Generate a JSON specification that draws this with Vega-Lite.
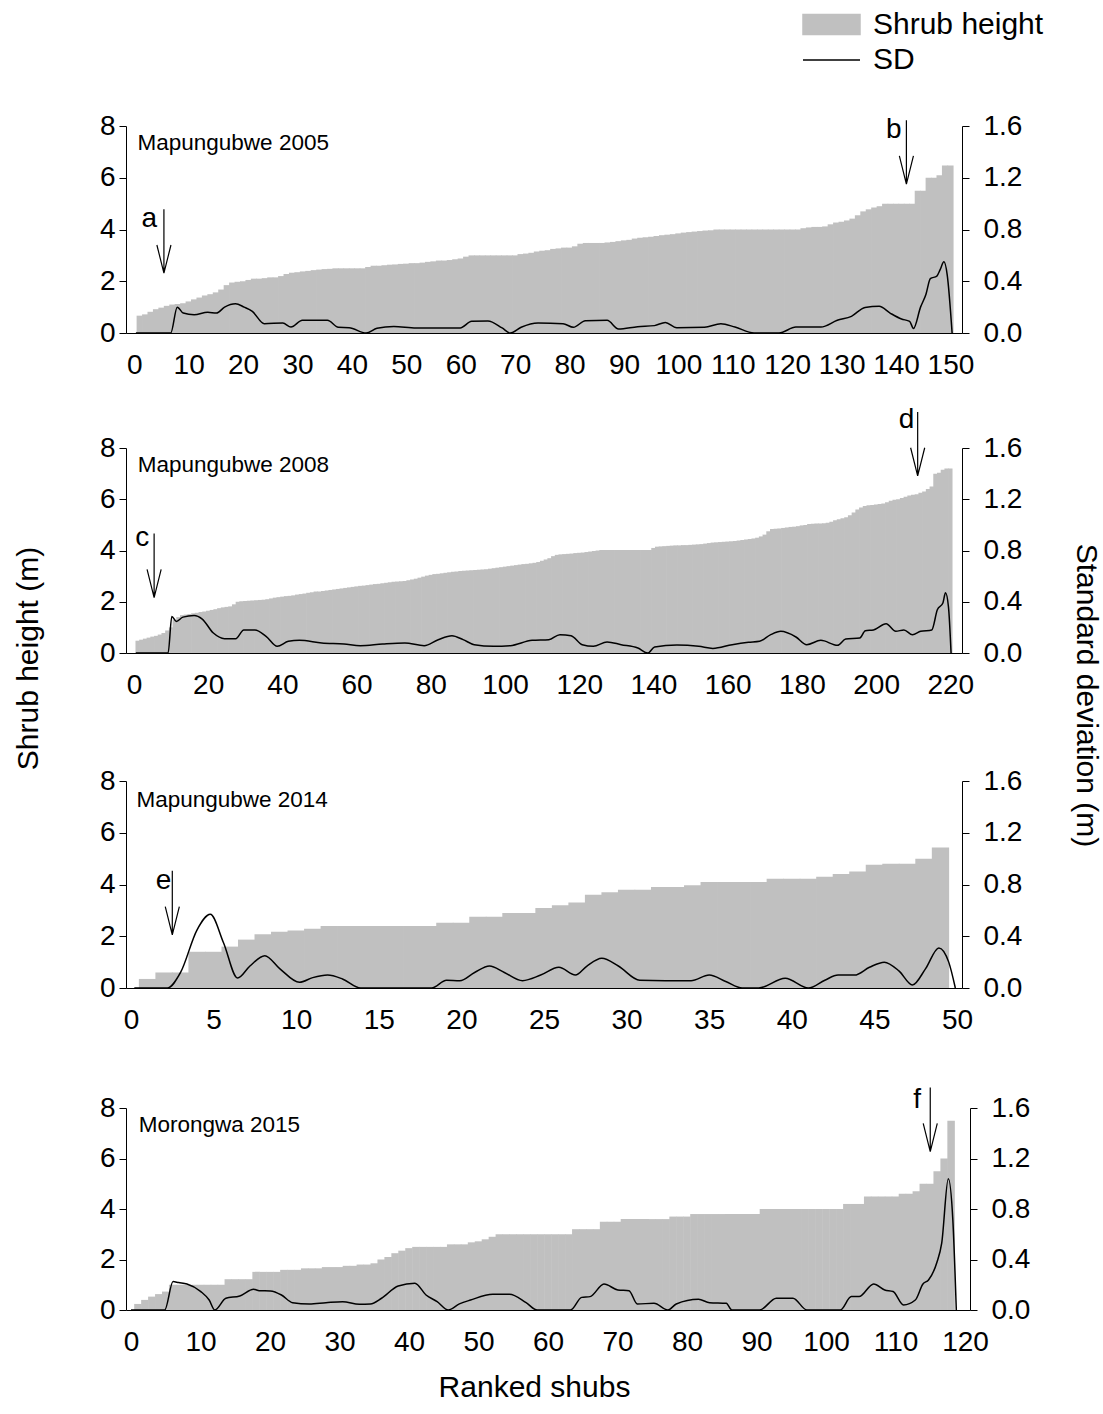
{
"$schema": "https://vega.github.io/schema/vega-lite/v6.json",
"background": "white",
"padding": {"left": 13, "top": 9, "right": 5, "bottom": 5},
"config": {
  "font": "Liberation Sans",
  "view": {"stroke": null},
  "axis": {"grid": false, "labelFont": "Liberation Sans", "titleFont": "Liberation Sans", "labelFontSize": 28, "labelColor": "#000000", "titleFontSize": 30, "titleFontWeight": "normal", "titleColor": "#000000", "domainColor": "#000000", "tickColor": "#000000", "domainWidth": 1, "tickWidth": 1, "labelOverlap": false},
  "axisX": {"ticks": false, "tickSize": 0, "labelPadding": 18, "labelFlush": false},
  "axisY": {"tickSize": 7},
  "axisLeft": {"labelPadding": 4},
  "axisRight": {"labelPadding": 14}
},
"datasets": {
  "bars2005": [{"rank":1,"height":0.67},{"rank":2,"height":0.72},{"rank":3,"height":0.82},{"rank":4,"height":0.92},{"rank":5,"height":0.98},{"rank":6,"height":1.05},{"rank":7,"height":1.1},{"rank":8,"height":1.12},{"rank":9,"height":1.15},{"rank":10,"height":1.22},{"rank":11,"height":1.3},{"rank":12,"height":1.37},{"rank":13,"height":1.45},{"rank":14,"height":1.5},{"rank":15,"height":1.57},{"rank":16,"height":1.68},{"rank":17,"height":1.85},{"rank":18,"height":1.95},{"rank":19,"height":1.98},{"rank":20,"height":2.0},{"rank":21,"height":2.05},{"rank":22,"height":2.1},{"rank":23,"height":2.1},{"rank":24,"height":2.12},{"rank":25,"height":2.15},{"rank":26,"height":2.15},{"rank":27,"height":2.2},{"rank":28,"height":2.28},{"rank":29,"height":2.33},{"rank":30,"height":2.35},{"rank":31,"height":2.38},{"rank":32,"height":2.4},{"rank":33,"height":2.43},{"rank":34,"height":2.45},{"rank":35,"height":2.47},{"rank":36,"height":2.48},{"rank":37,"height":2.5},{"rank":38,"height":2.5},{"rank":39,"height":2.5},{"rank":40,"height":2.5},{"rank":41,"height":2.5},{"rank":42,"height":2.5},{"rank":43,"height":2.55},{"rank":44,"height":2.6},{"rank":45,"height":2.6},{"rank":46,"height":2.62},{"rank":47,"height":2.64},{"rank":48,"height":2.65},{"rank":49,"height":2.67},{"rank":50,"height":2.68},{"rank":51,"height":2.7},{"rank":52,"height":2.7},{"rank":53,"height":2.72},{"rank":54,"height":2.75},{"rank":55,"height":2.77},{"rank":56,"height":2.8},{"rank":57,"height":2.8},{"rank":58,"height":2.82},{"rank":59,"height":2.85},{"rank":60,"height":2.88},{"rank":61,"height":2.95},{"rank":62,"height":3.0},{"rank":63,"height":3.0},{"rank":64,"height":3.0},{"rank":65,"height":3.0},{"rank":66,"height":3.0},{"rank":67,"height":3.0},{"rank":68,"height":3.0},{"rank":69,"height":3.0},{"rank":70,"height":3.0},{"rank":71,"height":3.05},{"rank":72,"height":3.07},{"rank":73,"height":3.1},{"rank":74,"height":3.15},{"rank":75,"height":3.18},{"rank":76,"height":3.2},{"rank":77,"height":3.25},{"rank":78,"height":3.27},{"rank":79,"height":3.3},{"rank":80,"height":3.3},{"rank":81,"height":3.35},{"rank":82,"height":3.45},{"rank":83,"height":3.48},{"rank":84,"height":3.48},{"rank":85,"height":3.48},{"rank":86,"height":3.48},{"rank":87,"height":3.5},{"rank":88,"height":3.52},{"rank":89,"height":3.55},{"rank":90,"height":3.58},{"rank":91,"height":3.6},{"rank":92,"height":3.65},{"rank":93,"height":3.68},{"rank":94,"height":3.7},{"rank":95,"height":3.72},{"rank":96,"height":3.75},{"rank":97,"height":3.78},{"rank":98,"height":3.8},{"rank":99,"height":3.82},{"rank":100,"height":3.85},{"rank":101,"height":3.88},{"rank":102,"height":3.9},{"rank":103,"height":3.92},{"rank":104,"height":3.94},{"rank":105,"height":3.96},{"rank":106,"height":3.97},{"rank":107,"height":4.0},{"rank":108,"height":4.0},{"rank":109,"height":4.0},{"rank":110,"height":4.0},{"rank":111,"height":4.0},{"rank":112,"height":4.0},{"rank":113,"height":4.0},{"rank":114,"height":4.0},{"rank":115,"height":4.0},{"rank":116,"height":4.0},{"rank":117,"height":4.0},{"rank":118,"height":4.0},{"rank":119,"height":4.0},{"rank":120,"height":4.0},{"rank":121,"height":4.0},{"rank":122,"height":4.0},{"rank":123,"height":4.05},{"rank":124,"height":4.08},{"rank":125,"height":4.1},{"rank":126,"height":4.1},{"rank":127,"height":4.12},{"rank":128,"height":4.2},{"rank":129,"height":4.27},{"rank":130,"height":4.3},{"rank":131,"height":4.35},{"rank":132,"height":4.42},{"rank":133,"height":4.55},{"rank":134,"height":4.7},{"rank":135,"height":4.78},{"rank":136,"height":4.85},{"rank":137,"height":4.9},{"rank":138,"height":5.0},{"rank":139,"height":5.0},{"rank":140,"height":5.0},{"rank":141,"height":5.0},{"rank":142,"height":5.0},{"rank":143,"height":5.0},{"rank":144,"height":5.5},{"rank":145,"height":5.5},{"rank":146,"height":6.0},{"rank":147,"height":6.0},{"rank":148,"height":6.1},{"rank":149,"height":6.47},{"rank":150,"height":6.47}],
  "sd2005": [{"rank":0.3,"sd":0},{"rank":6.7,"sd":0},{"rank":7.9,"sd":0.2},{"rank":9,"sd":0.154},{"rank":11,"sd":0.141},{"rank":13.5,"sd":0.16},{"rank":15.1,"sd":0.154},{"rank":16.6,"sd":0.2},{"rank":18.6,"sd":0.226},{"rank":20.2,"sd":0.2},{"rank":21.7,"sd":0.167},{"rank":23.9,"sd":0.072},{"rank":27.3,"sd":0.077},{"rank":28.8,"sd":0.046},{"rank":30.9,"sd":0.098},{"rank":35.5,"sd":0.098},{"rank":37.5,"sd":0.044},{"rank":39.5,"sd":0.041},{"rank":42.6,"sd":0},{"rank":44.6,"sd":0.036},{"rank":47.7,"sd":0.051},{"rank":51.8,"sd":0.039},{"rank":59.9,"sd":0.039},{"rank":62,"sd":0.09},{"rank":65,"sd":0.093},{"rank":67.6,"sd":0.039},{"rank":69.1,"sd":0},{"rank":71.1,"sd":0.044},{"rank":74.2,"sd":0.077},{"rank":78.8,"sd":0.072},{"rank":80.7,"sd":0.044},{"rank":82.9,"sd":0.095},{"rank":86.9,"sd":0.098},{"rank":89,"sd":0.031},{"rank":92.5,"sd":0.049},{"rank":95.6,"sd":0.057},{"rank":97.6,"sd":0.082},{"rank":99.7,"sd":0.041},{"rank":104.8,"sd":0.044},{"rank":107.8,"sd":0.072},{"rank":110.4,"sd":0.046},{"rank":113.9,"sd":0},{"rank":118.5,"sd":0},{"rank":121.6,"sd":0.046},{"rank":126.2,"sd":0.046},{"rank":129.2,"sd":0.098},{"rank":131.8,"sd":0.129},{"rank":134.3,"sd":0.198},{"rank":136.9,"sd":0.206},{"rank":138.9,"sd":0.154},{"rank":141,"sd":0.108},{"rank":142.5,"sd":0.09},{"rank":143.2,"sd":0.035},{"rank":144.5,"sd":0.2},{"rank":145.5,"sd":0.3},{"rank":146.3,"sd":0.42},{"rank":147.5,"sd":0.44},{"rank":148.1,"sd":0.49},{"rank":148.8,"sd":0.55},{"rank":149.4,"sd":0.45},{"rank":150.3,"sd":0}],
  "bars2008": [{"rank":1,"height":0.48},{"rank":2,"height":0.52},{"rank":3,"height":0.56},{"rank":4,"height":0.6},{"rank":5,"height":0.64},{"rank":6,"height":0.67},{"rank":7,"height":0.72},{"rank":8,"height":0.78},{"rank":9,"height":0.88},{"rank":10,"height":1.0},{"rank":11,"height":1.3},{"rank":12,"height":1.4},{"rank":13,"height":1.48},{"rank":14,"height":1.5},{"rank":15,"height":1.52},{"rank":16,"height":1.55},{"rank":17,"height":1.57},{"rank":18,"height":1.6},{"rank":19,"height":1.62},{"rank":20,"height":1.65},{"rank":21,"height":1.68},{"rank":22,"height":1.71},{"rank":23,"height":1.75},{"rank":24,"height":1.78},{"rank":25,"height":1.8},{"rank":26,"height":1.82},{"rank":27,"height":1.9},{"rank":28,"height":2.0},{"rank":29,"height":2.02},{"rank":30,"height":2.03},{"rank":31,"height":2.04},{"rank":32,"height":2.05},{"rank":33,"height":2.06},{"rank":34,"height":2.07},{"rank":35,"height":2.08},{"rank":36,"height":2.1},{"rank":37,"height":2.13},{"rank":38,"height":2.16},{"rank":39,"height":2.18},{"rank":40,"height":2.2},{"rank":41,"height":2.22},{"rank":42,"height":2.23},{"rank":43,"height":2.25},{"rank":44,"height":2.28},{"rank":45,"height":2.3},{"rank":46,"height":2.32},{"rank":47,"height":2.35},{"rank":48,"height":2.37},{"rank":49,"height":2.4},{"rank":50,"height":2.4},{"rank":51,"height":2.42},{"rank":52,"height":2.44},{"rank":53,"height":2.46},{"rank":54,"height":2.48},{"rank":55,"height":2.5},{"rank":56,"height":2.52},{"rank":57,"height":2.54},{"rank":58,"height":2.56},{"rank":59,"height":2.58},{"rank":60,"height":2.6},{"rank":61,"height":2.62},{"rank":62,"height":2.63},{"rank":63,"height":2.65},{"rank":64,"height":2.67},{"rank":65,"height":2.69},{"rank":66,"height":2.7},{"rank":67,"height":2.72},{"rank":68,"height":2.74},{"rank":69,"height":2.76},{"rank":70,"height":2.78},{"rank":71,"height":2.79},{"rank":72,"height":2.8},{"rank":73,"height":2.81},{"rank":74,"height":2.84},{"rank":75,"height":2.87},{"rank":76,"height":2.9},{"rank":77,"height":2.94},{"rank":78,"height":2.98},{"rank":79,"height":3.02},{"rank":80,"height":3.05},{"rank":81,"height":3.08},{"rank":82,"height":3.09},{"rank":83,"height":3.11},{"rank":84,"height":3.13},{"rank":85,"height":3.15},{"rank":86,"height":3.17},{"rank":87,"height":3.18},{"rank":88,"height":3.2},{"rank":89,"height":3.21},{"rank":90,"height":3.22},{"rank":91,"height":3.23},{"rank":92,"height":3.24},{"rank":93,"height":3.25},{"rank":94,"height":3.26},{"rank":95,"height":3.27},{"rank":96,"height":3.29},{"rank":97,"height":3.31},{"rank":98,"height":3.33},{"rank":99,"height":3.35},{"rank":100,"height":3.37},{"rank":101,"height":3.39},{"rank":102,"height":3.41},{"rank":103,"height":3.43},{"rank":104,"height":3.45},{"rank":105,"height":3.47},{"rank":106,"height":3.48},{"rank":107,"height":3.5},{"rank":108,"height":3.52},{"rank":109,"height":3.55},{"rank":110,"height":3.6},{"rank":111,"height":3.65},{"rank":112,"height":3.7},{"rank":113,"height":3.78},{"rank":114,"height":3.83},{"rank":115,"height":3.85},{"rank":116,"height":3.86},{"rank":117,"height":3.87},{"rank":118,"height":3.88},{"rank":119,"height":3.9},{"rank":120,"height":3.91},{"rank":121,"height":3.92},{"rank":122,"height":3.94},{"rank":123,"height":3.96},{"rank":124,"height":3.98},{"rank":125,"height":4.0},{"rank":126,"height":4.02},{"rank":127,"height":4.02},{"rank":128,"height":4.02},{"rank":129,"height":4.02},{"rank":130,"height":4.02},{"rank":131,"height":4.02},{"rank":132,"height":4.02},{"rank":133,"height":4.02},{"rank":134,"height":4.02},{"rank":135,"height":4.02},{"rank":136,"height":4.02},{"rank":137,"height":4.02},{"rank":138,"height":4.02},{"rank":139,"height":4.02},{"rank":140,"height":4.1},{"rank":141,"height":4.15},{"rank":142,"height":4.16},{"rank":143,"height":4.17},{"rank":144,"height":4.18},{"rank":145,"height":4.19},{"rank":146,"height":4.2},{"rank":147,"height":4.2},{"rank":148,"height":4.21},{"rank":149,"height":4.21},{"rank":150,"height":4.22},{"rank":151,"height":4.23},{"rank":152,"height":4.24},{"rank":153,"height":4.25},{"rank":154,"height":4.27},{"rank":155,"height":4.29},{"rank":156,"height":4.31},{"rank":157,"height":4.32},{"rank":158,"height":4.33},{"rank":159,"height":4.34},{"rank":160,"height":4.35},{"rank":161,"height":4.36},{"rank":162,"height":4.37},{"rank":163,"height":4.39},{"rank":164,"height":4.41},{"rank":165,"height":4.43},{"rank":166,"height":4.45},{"rank":167,"height":4.47},{"rank":168,"height":4.5},{"rank":169,"height":4.55},{"rank":170,"height":4.62},{"rank":171,"height":4.75},{"rank":172,"height":4.84},{"rank":173,"height":4.85},{"rank":174,"height":4.86},{"rank":175,"height":4.88},{"rank":176,"height":4.9},{"rank":177,"height":4.92},{"rank":178,"height":4.93},{"rank":179,"height":4.95},{"rank":180,"height":4.98},{"rank":181,"height":5.0},{"rank":182,"height":5.03},{"rank":183,"height":5.04},{"rank":184,"height":5.05},{"rank":185,"height":5.05},{"rank":186,"height":5.06},{"rank":187,"height":5.08},{"rank":188,"height":5.12},{"rank":189,"height":5.18},{"rank":190,"height":5.22},{"rank":191,"height":5.26},{"rank":192,"height":5.3},{"rank":193,"height":5.38},{"rank":194,"height":5.48},{"rank":195,"height":5.6},{"rank":196,"height":5.68},{"rank":197,"height":5.74},{"rank":198,"height":5.77},{"rank":199,"height":5.78},{"rank":200,"height":5.8},{"rank":201,"height":5.81},{"rank":202,"height":5.83},{"rank":203,"height":5.88},{"rank":204,"height":5.94},{"rank":205,"height":5.98},{"rank":206,"height":6.0},{"rank":207,"height":6.05},{"rank":208,"height":6.1},{"rank":209,"height":6.15},{"rank":210,"height":6.18},{"rank":211,"height":6.2},{"rank":212,"height":6.25},{"rank":213,"height":6.3},{"rank":214,"height":6.4},{"rank":215,"height":6.5},{"rank":216,"height":7.0},{"rank":217,"height":7.03},{"rank":218,"height":7.15},{"rank":219,"height":7.2},{"rank":220,"height":7.2}],
  "sd2008": [{"rank":0.5,"sd":0},{"rank":9.2,"sd":0},{"rank":10.2,"sd":0.285},{"rank":11.4,"sd":0.246},{"rank":13.2,"sd":0.28},{"rank":16.2,"sd":0.293},{"rank":18.4,"sd":0.265},{"rank":21.4,"sd":0.156},{"rank":24.4,"sd":0.112},{"rank":27.4,"sd":0.112},{"rank":29.6,"sd":0.18},{"rank":32.6,"sd":0.18},{"rank":35.6,"sd":0.13},{"rank":38.6,"sd":0.052},{"rank":41.6,"sd":0.091},{"rank":44.6,"sd":0.099},{"rank":50.6,"sd":0.078},{"rank":56.6,"sd":0.07},{"rank":61,"sd":0.057},{"rank":67,"sd":0.07},{"rank":73,"sd":0.078},{"rank":78.2,"sd":0.057},{"rank":82,"sd":0.104},{"rank":85.7,"sd":0.135},{"rank":88.7,"sd":0.104},{"rank":91.7,"sd":0.065},{"rank":96.9,"sd":0.052},{"rank":101.4,"sd":0.057},{"rank":107.3,"sd":0.099},{"rank":111.8,"sd":0.104},{"rank":114.8,"sd":0.143},{"rank":117.8,"sd":0.135},{"rank":120.8,"sd":0.065},{"rank":123.8,"sd":0.052},{"rank":127.5,"sd":0.086},{"rank":131.3,"sd":0.065},{"rank":135.8,"sd":0.039},{"rank":138.5,"sd":0},{"rank":140.3,"sd":0.047},{"rank":146.3,"sd":0.062},{"rank":152.2,"sd":0.052},{"rank":156,"sd":0.036},{"rank":161.2,"sd":0.065},{"rank":165.6,"sd":0.083},{"rank":168.6,"sd":0.091},{"rank":171.6,"sd":0.143},{"rank":174.3,"sd":0.169},{"rank":178.4,"sd":0.125},{"rank":181.3,"sd":0.065},{"rank":185.1,"sd":0.099},{"rank":189.6,"sd":0.06},{"rank":191.8,"sd":0.109},{"rank":195.6,"sd":0.117},{"rank":197.1,"sd":0.174},{"rank":199.3,"sd":0.18},{"rank":202.7,"sd":0.228},{"rank":205.3,"sd":0.169},{"rank":207.5,"sd":0.18},{"rank":209.8,"sd":0.143},{"rank":212,"sd":0.169},{"rank":215,"sd":0.18},{"rank":216.5,"sd":0.337},{"rank":218,"sd":0.39},{"rank":218.7,"sd":0.47},{"rank":219.5,"sd":0.36},{"rank":220.2,"sd":0}],
  "bars2014": [{"rank":1,"height":0.35},{"rank":2,"height":0.6},{"rank":3,"height":0.6},{"rank":4,"height":1.4},{"rank":5,"height":1.4},{"rank":6,"height":1.6},{"rank":7,"height":1.87},{"rank":8,"height":2.08},{"rank":9,"height":2.17},{"rank":10,"height":2.22},{"rank":11,"height":2.29},{"rank":12,"height":2.4},{"rank":13,"height":2.4},{"rank":14,"height":2.4},{"rank":15,"height":2.4},{"rank":16,"height":2.4},{"rank":17,"height":2.4},{"rank":18,"height":2.4},{"rank":19,"height":2.52},{"rank":20,"height":2.52},{"rank":21,"height":2.75},{"rank":22,"height":2.75},{"rank":23,"height":2.9},{"rank":24,"height":2.9},{"rank":25,"height":3.09},{"rank":26,"height":3.2},{"rank":27,"height":3.3},{"rank":28,"height":3.6},{"rank":29,"height":3.7},{"rank":30,"height":3.8},{"rank":31,"height":3.8},{"rank":32,"height":3.9},{"rank":33,"height":3.9},{"rank":34,"height":3.97},{"rank":35,"height":4.1},{"rank":36,"height":4.1},{"rank":37,"height":4.1},{"rank":38,"height":4.1},{"rank":39,"height":4.22},{"rank":40,"height":4.22},{"rank":41,"height":4.22},{"rank":42,"height":4.3},{"rank":43,"height":4.41},{"rank":44,"height":4.5},{"rank":45,"height":4.76},{"rank":46,"height":4.8},{"rank":47,"height":4.8},{"rank":48,"height":5.0},{"rank":49,"height":5.43}],
  "sd2014": [{"rank":0.2,"sd":0},{"rank":2.2,"sd":0},{"rank":3,"sd":0.12},{"rank":4,"sd":0.45},{"rank":4.8,"sd":0.57},{"rank":5.6,"sd":0.35},{"rank":6.45,"sd":0.077},{"rank":7.2,"sd":0.17},{"rank":8.1,"sd":0.25},{"rank":9,"sd":0.15},{"rank":10.2,"sd":0.044},{"rank":11,"sd":0.08},{"rank":11.9,"sd":0.1},{"rank":12.8,"sd":0.07},{"rank":13.9,"sd":0},{"rank":18.2,"sd":0},{"rank":19.1,"sd":0.06},{"rank":19.9,"sd":0.056},{"rank":20.8,"sd":0.12},{"rank":21.7,"sd":0.17},{"rank":22.6,"sd":0.12},{"rank":23.7,"sd":0.057},{"rank":24.8,"sd":0.1},{"rank":25.9,"sd":0.16},{"rank":26.9,"sd":0.1},{"rank":27.6,"sd":0.17},{"rank":28.5,"sd":0.23},{"rank":29.5,"sd":0.17},{"rank":30.8,"sd":0.06},{"rank":33.9,"sd":0.056},{"rank":35,"sd":0.1},{"rank":36,"sd":0.05},{"rank":37,"sd":0},{"rank":38,"sd":0},{"rank":39.6,"sd":0.075},{"rank":41,"sd":0},{"rank":42,"sd":0.06},{"rank":42.8,"sd":0.1},{"rank":43.8,"sd":0.1},{"rank":44.7,"sd":0.16},{"rank":45.6,"sd":0.2},{"rank":46.5,"sd":0.13},{"rank":47.3,"sd":0.023},{"rank":48.1,"sd":0.15},{"rank":48.9,"sd":0.31},{"rank":49.5,"sd":0.2},{"rank":49.9,"sd":0}],
  "bars2015": [{"rank":1,"height":0.24},{"rank":2,"height":0.4},{"rank":3,"height":0.53},{"rank":4,"height":0.63},{"rank":5,"height":0.73},{"rank":6,"height":1.0},{"rank":7,"height":1.0},{"rank":8,"height":1.0},{"rank":9,"height":1.0},{"rank":10,"height":1.0},{"rank":11,"height":1.0},{"rank":12,"height":1.0},{"rank":13,"height":1.0},{"rank":14,"height":1.22},{"rank":15,"height":1.22},{"rank":16,"height":1.22},{"rank":17,"height":1.22},{"rank":18,"height":1.51},{"rank":19,"height":1.51},{"rank":20,"height":1.51},{"rank":21,"height":1.51},{"rank":22,"height":1.59},{"rank":23,"height":1.59},{"rank":24,"height":1.59},{"rank":25,"height":1.65},{"rank":26,"height":1.65},{"rank":27,"height":1.65},{"rank":28,"height":1.7},{"rank":29,"height":1.7},{"rank":30,"height":1.7},{"rank":31,"height":1.75},{"rank":32,"height":1.75},{"rank":33,"height":1.8},{"rank":34,"height":1.8},{"rank":35,"height":1.85},{"rank":36,"height":2.0},{"rank":37,"height":2.1},{"rank":38,"height":2.25},{"rank":39,"height":2.35},{"rank":40,"height":2.45},{"rank":41,"height":2.5},{"rank":42,"height":2.5},{"rank":43,"height":2.5},{"rank":44,"height":2.5},{"rank":45,"height":2.5},{"rank":46,"height":2.6},{"rank":47,"height":2.6},{"rank":48,"height":2.6},{"rank":49,"height":2.68},{"rank":50,"height":2.72},{"rank":51,"height":2.8},{"rank":52,"height":2.9},{"rank":53,"height":3.0},{"rank":54,"height":3.0},{"rank":55,"height":3.0},{"rank":56,"height":3.0},{"rank":57,"height":3.0},{"rank":58,"height":3.0},{"rank":59,"height":3.0},{"rank":60,"height":3.0},{"rank":61,"height":3.0},{"rank":62,"height":3.0},{"rank":63,"height":3.0},{"rank":64,"height":3.2},{"rank":65,"height":3.2},{"rank":66,"height":3.2},{"rank":67,"height":3.2},{"rank":68,"height":3.5},{"rank":69,"height":3.5},{"rank":70,"height":3.5},{"rank":71,"height":3.6},{"rank":72,"height":3.6},{"rank":73,"height":3.6},{"rank":74,"height":3.6},{"rank":75,"height":3.6},{"rank":76,"height":3.6},{"rank":77,"height":3.6},{"rank":78,"height":3.7},{"rank":79,"height":3.7},{"rank":80,"height":3.7},{"rank":81,"height":3.8},{"rank":82,"height":3.8},{"rank":83,"height":3.8},{"rank":84,"height":3.8},{"rank":85,"height":3.8},{"rank":86,"height":3.8},{"rank":87,"height":3.8},{"rank":88,"height":3.8},{"rank":89,"height":3.8},{"rank":90,"height":3.8},{"rank":91,"height":4.0},{"rank":92,"height":4.0},{"rank":93,"height":4.0},{"rank":94,"height":4.0},{"rank":95,"height":4.0},{"rank":96,"height":4.0},{"rank":97,"height":4.0},{"rank":98,"height":4.0},{"rank":99,"height":4.0},{"rank":100,"height":4.0},{"rank":101,"height":4.0},{"rank":102,"height":4.0},{"rank":103,"height":4.2},{"rank":104,"height":4.2},{"rank":105,"height":4.2},{"rank":106,"height":4.5},{"rank":107,"height":4.5},{"rank":108,"height":4.5},{"rank":109,"height":4.5},{"rank":110,"height":4.5},{"rank":111,"height":4.6},{"rank":112,"height":4.6},{"rank":113,"height":4.7},{"rank":114,"height":5.0},{"rank":115,"height":5.0},{"rank":116,"height":5.5},{"rank":117,"height":6.0},{"rank":118,"height":7.5}],
  "sd2015": [{"rank":0,"sd":0},{"rank":4.85,"sd":0},{"rank":6.05,"sd":0.225},{"rank":6.85,"sd":0.217},{"rank":8.05,"sd":0.206},{"rank":10.05,"sd":0.146},{"rank":11.25,"sd":0.079},{"rank":12.05,"sd":0},{"rank":13.65,"sd":0.093},{"rank":15.65,"sd":0.111},{"rank":17.65,"sd":0.164},{"rank":18.45,"sd":0.153},{"rank":20.05,"sd":0.151},{"rank":21.65,"sd":0.119},{"rank":23.25,"sd":0.058},{"rank":25.65,"sd":0.048},{"rank":28.05,"sd":0.058},{"rank":30.45,"sd":0.066},{"rank":32.85,"sd":0.045},{"rank":34.45,"sd":0.048},{"rank":36.05,"sd":0.093},{"rank":38.45,"sd":0.19},{"rank":40.85,"sd":0.212},{"rank":42.45,"sd":0.119},{"rank":44.05,"sd":0.066},{"rank":45.65,"sd":0},{"rank":47.25,"sd":0.048},{"rank":48.85,"sd":0.079},{"rank":52.05,"sd":0.124},{"rank":54.45,"sd":0.124},{"rank":56.85,"sd":0.058},{"rank":58.45,"sd":0},{"rank":63.25,"sd":0},{"rank":64.85,"sd":0.1},{"rank":66.05,"sd":0.106},{"rank":68.05,"sd":0.206},{"rank":70.05,"sd":0.159},{"rank":71.65,"sd":0.153},{"rank":72.85,"sd":0.048},{"rank":75.25,"sd":0.053},{"rank":77.25,"sd":0},{"rank":78.45,"sd":0.048},{"rank":81.65,"sd":0.085},{"rank":83.25,"sd":0.058},{"rank":85.65,"sd":0.053},{"rank":86.45,"sd":0},{"rank":90.45,"sd":0},{"rank":92.85,"sd":0.093},{"rank":95.25,"sd":0.093},{"rank":97.25,"sd":0},{"rank":102.05,"sd":0},{"rank":103.65,"sd":0.106},{"rank":104.75,"sd":0.106},{"rank":106.85,"sd":0.206},{"rank":108.45,"sd":0.159},{"rank":109.65,"sd":0.146},{"rank":111.15,"sd":0.04},{"rank":112.85,"sd":0.079},{"rank":113.95,"sd":0.206},{"rank":114.75,"sd":0.238},{"rank":115.95,"sd":0.376},{"rank":116.65,"sd":0.53},{"rank":117.6,"sd":1.04},{"rank":118.25,"sd":0.714},{"rank":118.75,"sd":0}],
  "notes": [
    {"panel":"p1","kind":"title","rank":0.6,"height":7.34,"label":"Mapungubwe 2005"},
    {"panel":"p1","kind":"letter","rank":2.76,"height":4.11,"label":"a"},
    {"panel":"p1","kind":"letter","rank":139.6,"height":7.52,"label":"b"},
    {"panel":"p1","kind":"arrow","rank":5.45,"height":3.55,"label":""},
    {"panel":"p1","kind":"arrow","rank":141.9,"height":6.99,"label":""},
    {"panel":"p2","kind":"title","rank":1.0,"height":7.33,"label":"Mapungubwe 2008"},
    {"panel":"p2","kind":"letter","rank":2.26,"height":4.17,"label":"c"},
    {"panel":"p2","kind":"letter","rank":208.2,"height":8.77,"label":"d"},
    {"panel":"p2","kind":"arrow","rank":5.43,"height":3.41,"label":""},
    {"panel":"p2","kind":"arrow","rank":211.2,"height":8.16,"label":""},
    {"panel":"p3","kind":"title","rank":0.33,"height":7.26,"label":"Mapungubwe 2014"},
    {"panel":"p3","kind":"letter","rank":1.97,"height":3.82,"label":"e"},
    {"panel":"p3","kind":"arrow","rank":2.5,"height":3.29,"label":""},
    {"panel":"p4","kind":"title","rank":1.1,"height":7.31,"label":"Morongwa 2015"},
    {"panel":"p4","kind":"letter","rank":113.1,"height":8.0,"label":"f"},
    {"panel":"p4","kind":"arrow","rank":115,"height":7.54,"label":""}
  ]
},
"spacing": 115,
"bounds": "flush",
"vconcat": [
  {
    "width": 836, "height": 207,
    "encoding": {"x": {"field": "rank", "type": "quantitative", "scale": {"domain": [-0.6, 151.2], "nice": false, "zero": false}, "axis": {"values": [0,10,20,30,40,50,60,70,80,90,100,110,120,130,140,150], "title": null}}},
    "layer": [
      {"data": {"name": "bars2005"}, "mark": {"type": "bar", "orient": "vertical", "size": 6.2},
       "encoding": {
         "y": {"field": "height", "type": "quantitative", "scale": {"domain": [0, 8], "nice": false}, "axis": {"values": [0,2,4,6,8], "title": null, "orient": "left"}},
         "color": {"datum": "Shrub height", "type": "nominal", "scale": {"domain": ["Shrub height", "SD"], "range": ["#c0c0c0", "#000000"]},
           "legend": {"orient": "none", "legendX": 690.5, "legendY": -116.5, "title": null, "padding": 0, "symbolSize": 400, "labelOffset": 26.5, "rowPadding": 5.5, "labelFontSize": 30, "labelLimit": 400, "labelFont": "Liberation Sans", "labelColor": "#000000",
             "encode": {"symbols": {"update": {
               "shape": {"signal": "datum.value === 'SD' ? 'M-2.85,0H2.85' : 'M-2.85,-1H2.85V1H-2.85Z'"},
               "fill": {"signal": "datum.value === 'SD' ? 'transparent' : '#c0c0c0'"},
               "stroke": {"signal": "datum.value === 'SD' ? '#000000' : 'transparent'"},
               "strokeWidth": {"value": 1.5},
               "opacity": {"value": 1}}}}}}
       }},
      {"data": {"name": "sd2005"}, "mark": {"type": "line", "strokeWidth": 1.5, "interpolate": "monotone"},
       "encoding": {
         "y": {"field": "sd", "type": "quantitative", "scale": {"domain": [0, 1.6], "nice": false}, "axis": {"values": [0,0.4,0.8,1.2,1.6], "format": ".1f", "title": null, "orient": "right"}},
         "color": {"datum": "SD", "type": "nominal"}
       }},
      {"data": {"name": "notes"}, "transform": [{"filter": "datum.panel === 'p1' && datum.kind === 'letter'"}],
       "mark": {"type": "text", "fontSize": 28, "align": "center", "baseline": "alphabetic", "color": "#000000"},
       "encoding": {
         "y": {"field": "height", "type": "quantitative", "scale": {"domain": [0, 8], "nice": false}, "axis": null},
         "text": {"field": "label"}}},
      {"data": {"name": "notes"}, "transform": [{"filter": "datum.panel === 'p1' && datum.kind === 'title'"}],
       "mark": {"type": "text", "fontSize": 22.5, "align": "left", "baseline": "middle", "color": "#000000"},
       "encoding": {
         "y": {"field": "height", "type": "quantitative", "scale": {"domain": [0, 8], "nice": false}, "axis": null},
         "text": {"field": "label"}}},
      {"data": {"name": "notes"}, "transform": [{"filter": "datum.panel === 'p1' && datum.kind === 'arrow'"}],
       "mark": {"type": "point", "shape": "M0,-1L0,1M-0.22,0.12L0,1L0.22,0.12", "size": 4096, "filled": false, "stroke": "#000000", "strokeWidth": 1.2, "opacity": 1},
       "encoding": {
         "y": {"field": "height", "type": "quantitative", "scale": {"domain": [0, 8], "nice": false}, "axis": null}}}
    ],
    "resolve": {"scale": {"y": "independent"}}
  },
  {
    "width": 836, "height": 205,
    "encoding": {"x": {"field": "rank", "type": "quantitative", "scale": {"domain": [-0.8, 221.8], "nice": false, "zero": false}, "axis": {"values": [0,20,40,60,80,100,120,140,160,180,200,220], "title": null}}},
    "layer": [
      {"data": {"name": "bars2008"}, "mark": {"type": "bar", "orient": "vertical", "size": 4.4, "color": "#c0c0c0"},
       "encoding": {
         "y": {"field": "height", "type": "quantitative", "scale": {"domain": [0, 8], "nice": false}, "axis": {"values": [0,2,4,6,8], "orient": "left", "title": "Shrub height (m)", "titleAngle": 270, "titleX": -98, "titleY": 210, "titleAlign": "center", "titleBaseline": "middle"}}
       }},
      {"data": {"name": "sd2008"}, "mark": {"type": "line", "strokeWidth": 1.5, "interpolate": "monotone", "color": "#000000"},
       "encoding": {
         "y": {"field": "sd", "type": "quantitative", "scale": {"domain": [0, 1.6], "nice": false}, "axis": {"values": [0,0.4,0.8,1.2,1.6], "format": ".1f", "orient": "right", "title": "Standard deviation (m)", "titleAngle": 90, "titleX": 123, "titleY": 247, "titleAlign": "center", "titleBaseline": "middle"}}
       }},
      {"data": {"name": "notes"}, "transform": [{"filter": "datum.panel === 'p2' && datum.kind === 'letter'"}],
       "mark": {"type": "text", "fontSize": 28, "align": "center", "baseline": "alphabetic", "color": "#000000"},
       "encoding": {
         "y": {"field": "height", "type": "quantitative", "scale": {"domain": [0, 8], "nice": false}, "axis": null},
         "text": {"field": "label"}}},
      {"data": {"name": "notes"}, "transform": [{"filter": "datum.panel === 'p2' && datum.kind === 'title'"}],
       "mark": {"type": "text", "fontSize": 22.5, "align": "left", "baseline": "middle", "color": "#000000"},
       "encoding": {
         "y": {"field": "height", "type": "quantitative", "scale": {"domain": [0, 8], "nice": false}, "axis": null},
         "text": {"field": "label"}}},
      {"data": {"name": "notes"}, "transform": [{"filter": "datum.panel === 'p2' && datum.kind === 'arrow'"}],
       "mark": {"type": "point", "shape": "M0,-1L0,1M-0.22,0.12L0,1L0.22,0.12", "size": 4096, "filled": false, "stroke": "#000000", "strokeWidth": 1.2, "opacity": 1},
       "encoding": {
         "y": {"field": "height", "type": "quantitative", "scale": {"domain": [0, 8], "nice": false}, "axis": null}}}
    ],
    "resolve": {"scale": {"y": "independent"}}
  },
  {
    "width": 836, "height": 220,
    "encoding": {"x": {"field": "rank", "type": "quantitative", "scale": {"domain": [0, 50], "nice": false, "zero": false}, "axis": {"values": [0,5,10,15,20,25,30,35,40,45,50], "title": null}}},
    "layer": [
      {"data": {"name": "bars2014"}, "mark": {"type": "bar", "orient": "vertical", "size": 17.3, "color": "#c0c0c0"},
       "encoding": {
         "y": {"field": "height", "type": "quantitative", "scale": {"domain": [0, 8], "nice": false, "range": [220, 13]}, "axis": {"values": [0,2,4,6,8], "title": null, "orient": "left"}}
       }},
      {"data": {"name": "sd2014"}, "mark": {"type": "line", "strokeWidth": 1.5, "interpolate": "monotone", "color": "#000000"},
       "encoding": {
         "y": {"field": "sd", "type": "quantitative", "scale": {"domain": [0, 1.6], "nice": false, "range": [220, 13]}, "axis": {"values": [0,0.4,0.8,1.2,1.6], "format": ".1f", "title": null, "orient": "right"}}
       }},
      {"data": {"name": "notes"}, "transform": [{"filter": "datum.panel === 'p3' && datum.kind === 'letter'"}],
       "mark": {"type": "text", "fontSize": 28, "align": "center", "baseline": "alphabetic", "color": "#000000"},
       "encoding": {
         "y": {"field": "height", "type": "quantitative", "scale": {"domain": [0, 8], "nice": false, "range": [220, 13]}, "axis": null},
         "text": {"field": "label"}}},
      {"data": {"name": "notes"}, "transform": [{"filter": "datum.panel === 'p3' && datum.kind === 'title'"}],
       "mark": {"type": "text", "fontSize": 22.5, "align": "left", "baseline": "middle", "color": "#000000"},
       "encoding": {
         "y": {"field": "height", "type": "quantitative", "scale": {"domain": [0, 8], "nice": false, "range": [220, 13]}, "axis": null},
         "text": {"field": "label"}}},
      {"data": {"name": "notes"}, "transform": [{"filter": "datum.panel === 'p3' && datum.kind === 'arrow'"}],
       "mark": {"type": "point", "shape": "M0,-1L0,1M-0.22,0.12L0,1L0.22,0.12", "size": 4096, "filled": false, "stroke": "#000000", "strokeWidth": 1.2, "opacity": 1},
       "encoding": {
         "y": {"field": "height", "type": "quantitative", "scale": {"domain": [0, 8], "nice": false, "range": [220, 13]}, "axis": null}}}
    ],
    "resolve": {"scale": {"y": "independent"}}
  },
  {
    "width": 844, "height": 207,
    "encoding": {"x": {"field": "rank", "type": "quantitative", "scale": {"domain": [0, 120], "nice": false, "zero": false}, "axis": {"values": [0,10,20,30,40,50,60,70,80,90,100,110,120], "title": "Ranked shubs", "titleX": 408, "titleY": 77, "titleAlign": "center", "titleBaseline": "middle"}}},
    "layer": [
      {"data": {"name": "bars2015"}, "mark": {"type": "bar", "orient": "vertical", "size": 7.5, "color": "#c0c0c0"},
       "encoding": {
         "y": {"field": "height", "type": "quantitative", "scale": {"domain": [0, 8], "nice": false, "range": [207, 5]}, "axis": {"values": [0,2,4,6,8], "title": null, "orient": "left"}}
       }},
      {"data": {"name": "sd2015"}, "mark": {"type": "line", "strokeWidth": 1.5, "interpolate": "monotone", "color": "#000000"},
       "encoding": {
         "y": {"field": "sd", "type": "quantitative", "scale": {"domain": [0, 1.6], "nice": false, "range": [207, 5]}, "axis": {"values": [0,0.4,0.8,1.2,1.6], "format": ".1f", "title": null, "orient": "right"}}
       }},
      {"data": {"name": "notes"}, "transform": [{"filter": "datum.panel === 'p4' && datum.kind === 'letter'"}],
       "mark": {"type": "text", "fontSize": 28, "align": "center", "baseline": "alphabetic", "color": "#000000"},
       "encoding": {
         "y": {"field": "height", "type": "quantitative", "scale": {"domain": [0, 8], "nice": false, "range": [207, 5]}, "axis": null},
         "text": {"field": "label"}}},
      {"data": {"name": "notes"}, "transform": [{"filter": "datum.panel === 'p4' && datum.kind === 'title'"}],
       "mark": {"type": "text", "fontSize": 22.5, "align": "left", "baseline": "middle", "color": "#000000"},
       "encoding": {
         "y": {"field": "height", "type": "quantitative", "scale": {"domain": [0, 8], "nice": false, "range": [207, 5]}, "axis": null},
         "text": {"field": "label"}}},
      {"data": {"name": "notes"}, "transform": [{"filter": "datum.panel === 'p4' && datum.kind === 'arrow'"}],
       "mark": {"type": "point", "shape": "M0,-1L0,1M-0.22,0.12L0,1L0.22,0.12", "size": 4096, "filled": false, "stroke": "#000000", "strokeWidth": 1.2, "opacity": 1},
       "encoding": {
         "y": {"field": "height", "type": "quantitative", "scale": {"domain": [0, 8], "nice": false, "range": [207, 5]}, "axis": null}}}
    ],
    "resolve": {"scale": {"y": "independent"}}
  }
]
}
